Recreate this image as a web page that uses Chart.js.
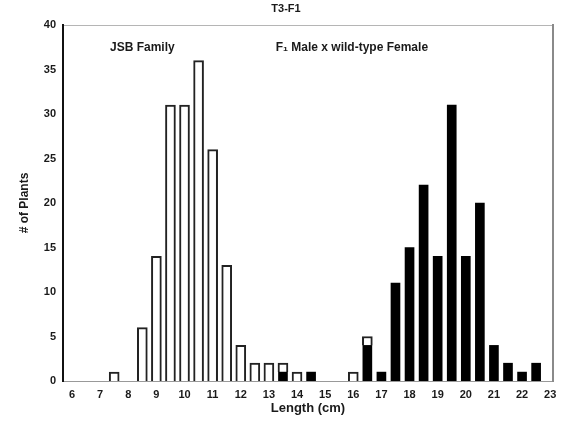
<!DOCTYPE html>
<html lang="en">
<head>
<meta charset="utf-8">
<title>T3-F1</title>
<script src="https://cdn.jsdelivr.net/npm/chart.js@4.4.1/dist/chart.umd.min.js"></script>
<style>
  html, body { margin: 0; padding: 0; background: #fff; }
  #wrap { width: 572px; height: 423px; }
</style>
</head>
<body>
<div id="wrap"><canvas id="lengthChart"></canvas></div>
<script>
// bin centres in cm, one bar every half centimetre
var lengths = [6, 6.5, 7, 7.5, 8, 8.5, 9, 9.5, 10, 10.5, 11, 11.5, 12, 12.5, 13, 13.5, 14, 14.5,
  15, 15.5, 16, 16.5, 17, 17.5, 18, 18.5, 19, 19.5, 20, 20.5, 21, 21.5, 22, 22.5, 23];

// plant counts per bin
var jsbFamily = [0, 0, 0, 1, 0, 6, 14, 31, 31, 36, 26, 13, 4, 2, 2, 1, 1, 0,
  0, 0, 1, 1, 0, 0, 0, 0, 0, 0, 0, 0, 0, 0, 0, 0, 0];
var f1Cross = [0, 0, 0, 0, 0, 0, 0, 0, 0, 0, 0, 0, 0, 0, 0, 1, 0, 1,
  0, 0, 0, 4, 1, 11, 15, 22, 14, 31, 14, 20, 4, 2, 1, 2, 0];

var xTicks = [6, 7, 8, 9, 10, 11, 12, 13, 14, 15, 16, 17, 18, 19, 20, 21, 22, 23];
var groupNames = ['JSB Family', 'F\u2081 Male x wild-type Female'];

var FONT = '"Liberation Sans", Arial, sans-serif';

// empty bins become null so no stub outline is drawn for them
function points(values) {
  return lengths.map(function (len, i) {
    return { x: len, y: values[i] ? values[i] : null };
  });
}

// group names written inside the plot, placed in data units
var groupLabels = {
  id: 'groupLabels',
  afterDatasetsDraw: function (chart) {
    var ctx = chart.ctx;
    var xs = chart.scales.x, ys = chart.scales.y;
    var spots = [[8.5, 37.5], [15.95, 37.5]];
    ctx.save();
    ctx.font = 'bold 12px ' + FONT;
    ctx.fillStyle = '#1a1a1a';
    ctx.textAlign = 'center';
    ctx.textBaseline = 'middle';
    groupNames.forEach(function (name, i) {
      ctx.fillText(name, xs.getPixelForValue(spots[i][0]), ys.getPixelForValue(spots[i][1]));
    });
    ctx.restore();
  }
};

Chart.defaults.font.family = FONT;
Chart.defaults.color = '#1a1a1a';

new Chart(document.getElementById('lengthChart'), {
  type: 'bar',
  data: {
    datasets: [{
      label: groupNames[1],
      data: points(f1Cross),
      backgroundColor: '#000',
      borderWidth: 0,
      barThickness: 9
    }, {
      label: groupNames[0],
      data: points(jsbFamily),
      backgroundColor: '#fff',
      borderColor: '#222',
      borderWidth: 2,
      barThickness: 10
    }]
  },
  options: {
    responsive: true,
    maintainAspectRatio: false,
    animation: false,
    layout: { padding: 0 },
    plugins: {
      legend: { display: false },
      tooltip: { enabled: false },
      title: {
        display: true,
        text: 'T3-F1',
        font: { size: 11, weight: 'bold', lineHeight: 1 },
        padding: { top: 3, bottom: 11 }
      }
    },
    scales: {
      x: {
        type: 'linear',
        stacked: true,
        offset: false,
        min: 5.68,
        max: 23.1,
        afterBuildTicks: function (scale) {
          scale.ticks = xTicks.map(function (v) { return { value: v }; });
        },
        afterFit: function (scale) { scale.height = 42; },
        grid: { display: false, drawTicks: false },
        border: { display: true, color: '#999', width: 1 },
        ticks: { autoSkip: false, maxRotation: 0, padding: 7, font: { size: 11, weight: 'bold' } },
        title: {
          display: true,
          text: 'Length (cm)',
          font: { size: 13, weight: 'bold', lineHeight: 1 },
          padding: { top: 0, bottom: 8 }
        }
      },
      x2: {
        type: 'linear',
        position: 'top',
        afterFit: function (scale) { scale.height = 0; },
        grid: { display: false, drawTicks: false },
        border: { display: true, color: '#b5b5b5', width: 1, dash: [2, 2] },
        ticks: { display: false }
      },
      y: {
        stacked: true,
        min: 0,
        max: 40,
        afterFit: function (scale) { scale.width = 63; },
        grid: { display: false, drawTicks: false },
        border: { display: true, color: '#111', width: 2 },
        ticks: { stepSize: 5, padding: 7, font: { size: 11, weight: 'bold' } },
        title: {
          display: true,
          text: '# of Plants',
          font: { size: 12, weight: 'bold', lineHeight: 1 },
          padding: { top: 19, bottom: 0 }
        }
      },
      y2: {
        type: 'linear',
        position: 'right',
        afterFit: function (scale) { scale.width = 19; },
        grid: { display: false, drawTicks: false },
        border: { display: true, color: '#8a8a8a', width: 2 },
        ticks: { display: false }
      }
    }
  },
  plugins: [groupLabels]
});
</script>
</body>
</html>
